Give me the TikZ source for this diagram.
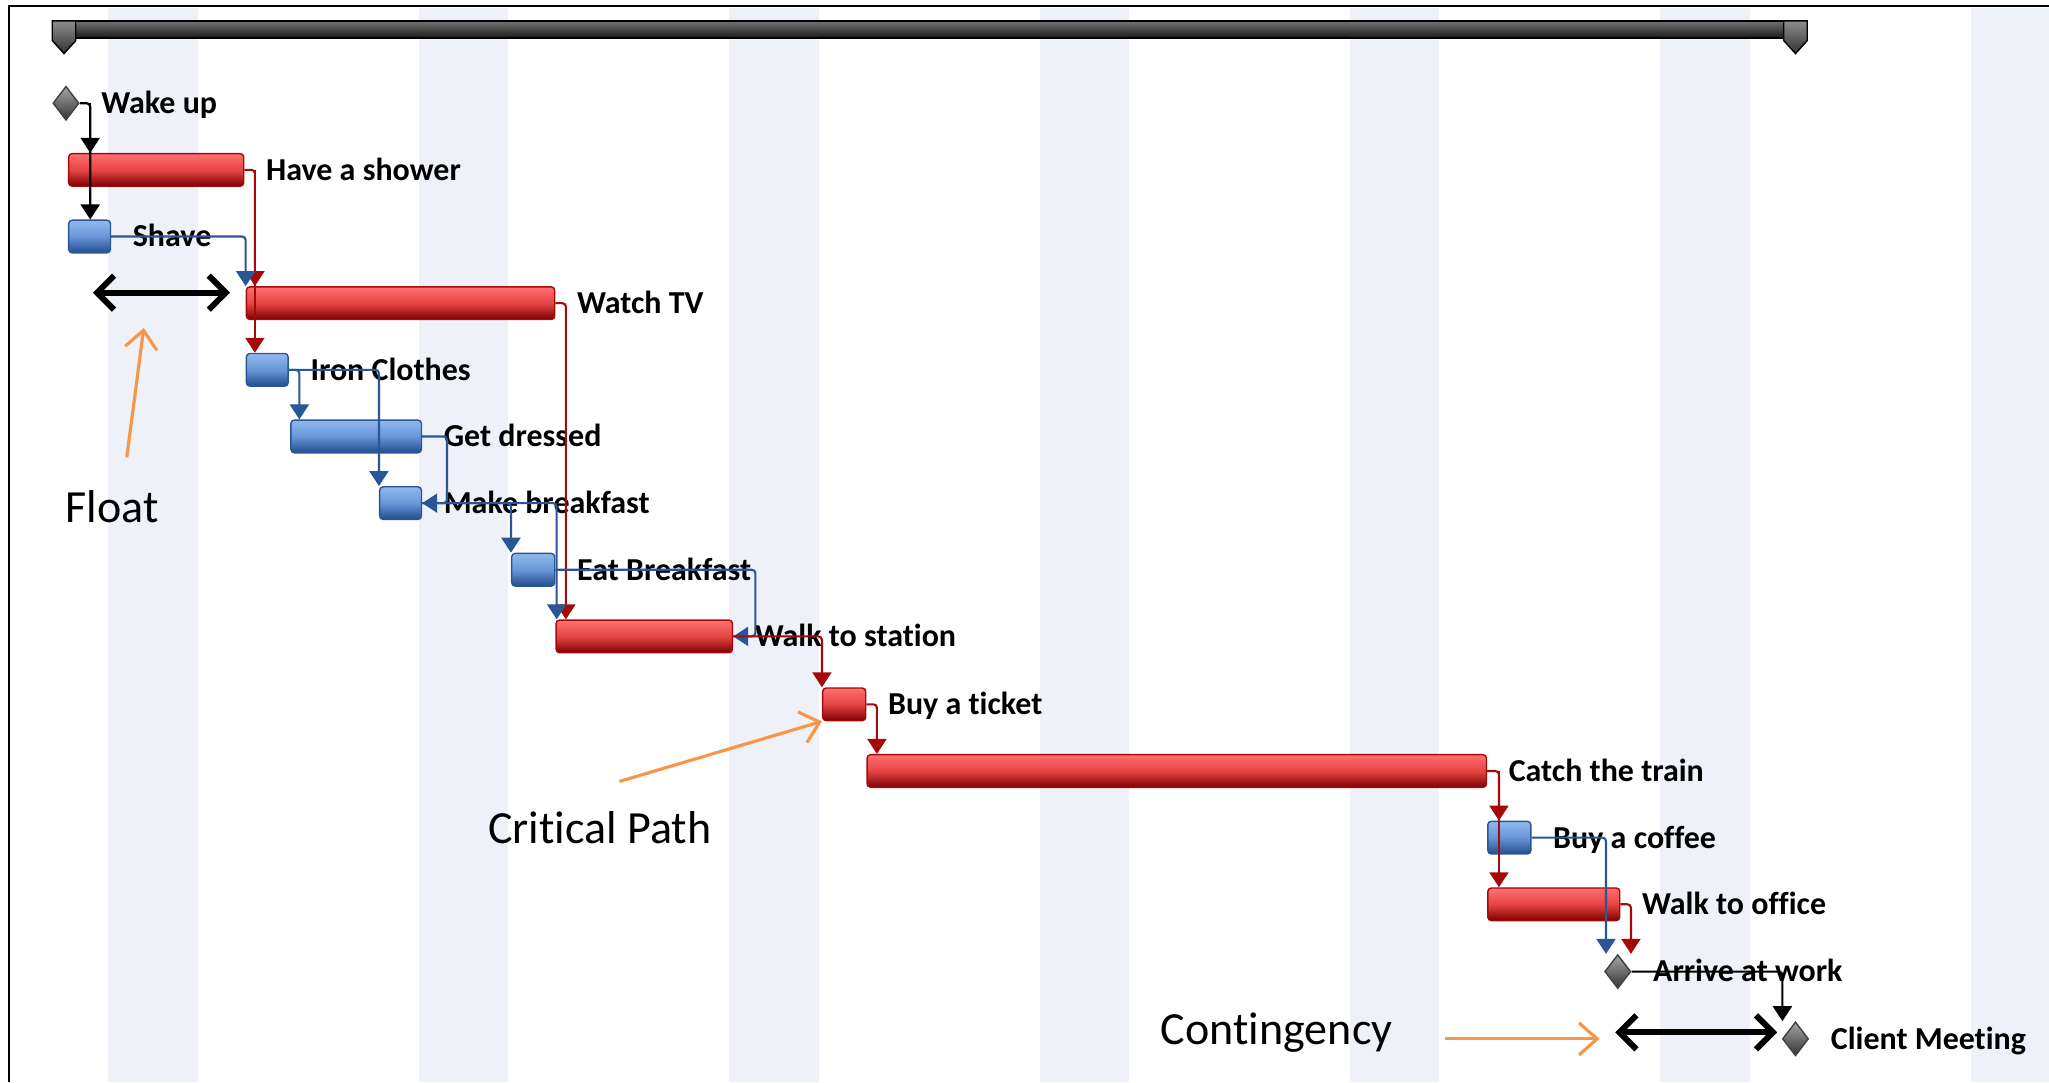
\documentclass[tikz,border=0pt]{standalone}
\usepackage{fontspec}
\setmainfont[Ligatures=NoCommon]{Carlito}
\usepackage{xcolor}
\usepackage{tikz}
\usetikzlibrary{arrows.meta, shapes.geometric, positioning}

\definecolor{stripe}{RGB}{238,241,247}
\definecolor{critTop}{RGB}{255,112,112}
\definecolor{critMid}{RGB}{230,68,68}
\definecolor{critBot}{RGB}{125,0,0}
\definecolor{critLine}{RGB}{165,10,10}
\definecolor{taskTop}{RGB}{145,185,238}
\definecolor{taskMid}{RGB}{105,150,216}
\definecolor{taskBot}{RGB}{34,76,140}
\definecolor{taskLine}{RGB}{40,86,150}
\definecolor{noteOrange}{RGB}{247,150,70}

\newcommand{\gpx}{0.13068mm}

\begin{document}
\begin{tikzpicture}[
        x=\gpx, y=-\gpx,
        bar/.style={rectangle, rounded corners=1pt, anchor=west, inner sep=0pt, minimum height=25*\gpx},
        crit/.style={bar, draw=critLine, top color=critTop, bottom color=critBot, middle color=critMid},
        task/.style={bar, draw=taskLine, top color=taskTop, bottom color=taskBot, middle color=taskMid},
        milestone/.style={diamond, inner sep=0pt, minimum width=20*\gpx, minimum height=26*\gpx, draw=black!75, top color=black!35, bottom color=black!80},
        lbl/.style={inner sep=0pt, text height=5.9pt, text depth=0pt, font=\fontsize{9.1}{11}\selectfont\bfseries},
        note/.style={font=\fontsize{13.1}{15}\selectfont},
        link/.style={line width=0.6pt, rounded corners=1pt, -{Triangle[length=1.5mm, width=1.9mm]}},
        critlink/.style={link, critLine},
        tasklink/.style={link, taskLine},
        mslink/.style={link, black},
        span/.style={line width=1.7pt, {Straight Barb[length=1.7mm, width=3.4mm]}-{Straight Barb[length=1.7mm, width=3.4mm]}},
        pointer/.style={noteOrange, line width=0.9pt, -{Straight Barb[length=1.8mm, width=3.2mm]}}
    ]
        \useasboundingbox (0,0) rectangle (1568,828);

        % Background
        \foreach \col in {0,...,6} {
            \pgfmathsetmacro\xa{83+237.5*\col}
            \pgfmathsetmacro\xb{min(\xa+68.5,1568)}
            \fill[stripe] (\xa,6) rectangle (\xb,828);
        }
        \draw[line width=0.7pt] (7,828) -- (7,4.5) -- (1568,4.5);

        % Summary
        \shade[top color=black!55, bottom color=black!90, draw=black] (49,16) rectangle (1374,29);
        \shade[top color=black!45, bottom color=black!80, draw=black] (40,16) -- (58,16) -- (58,31) -- (49,41) -- (40,31) -- cycle;
        \shade[top color=black!45, bottom color=black!80, draw=black] (1365,16) -- (1383,16) -- (1383,31) -- (1374,41) -- (1365,31) -- cycle;

        % Tasks
        \node[milestone] (wake) at (50.5,79) {};
        \node[crit, minimum width=134*\gpx] (shower) at (52,130) {};
        \node[task, minimum width=32*\gpx] (shave) at (52,181) {};
        \node[crit, minimum width=236*\gpx] (tv) at (188,232) {};
        \node[task, minimum width=32*\gpx] (iron) at (188,283) {};
        \node[task, minimum width=100*\gpx] (dressed) at (222,334) {};
        \node[task, minimum width=32*\gpx] (breakfast) at (290,385) {};
        \node[task, minimum width=33*\gpx] (eat) at (391,436) {};
        \node[crit, minimum width=135*\gpx] (station) at (425,487) {};
        \node[crit, minimum width=33*\gpx] (ticket) at (629,539) {};
        \node[crit, minimum width=474*\gpx] (train) at (663,590) {};
        \node[task, minimum width=33*\gpx] (coffee) at (1138,641) {};
        \node[crit, minimum width=101*\gpx] (office) at (1138,692) {};
        \node[milestone] (arrive) at (1238,743.5) {};
        \node[milestone] (meeting) at (1374,795) {};

        % Labels
        \node[lbl, right=2.09mm of wake] (wakelbl) {Wake up};
        \node[lbl, right=2.09mm of shower] (showerlbl) {Have a shower};
        \node[lbl, right=2.09mm of shave] (shavelbl) {Shave};
        \node[lbl, right=2.09mm of tv] (tvlbl) {Watch TV};
        \node[lbl, right=2.09mm of iron] (ironlbl) {Iron Clothes};
        \node[lbl, right=2.09mm of dressed] (dressedlbl) {Get dressed};
        \node[lbl, right=2.09mm of breakfast] (breakfastlbl) {Make breakfast};
        \node[lbl, right=2.09mm of eat] (eatlbl) {Eat Breakfast};
        \node[lbl, right=2.09mm of station] (stationlbl) {Walk to station};
        \node[lbl, right=2.09mm of ticket] (ticketlbl) {Buy a ticket};
        \node[lbl, right=2.09mm of train] (trainlbl) {Catch the train};
        \node[lbl, right=2.09mm of coffee] (coffeelbl) {Buy a coffee};
        \node[lbl, right=2.09mm of office] (officelbl) {Walk to office};
        \node[lbl, right=2.09mm of arrive] (arrivelbl) {Arrive at work};
        \node[lbl, right=2.09mm of meeting] (meetinglbl) {Client Meeting};

        % Links
        \draw[mslink] (wake.east) -- ++(8,0) coordinate (w1) -- (w1 |- shave.north);
        \draw[mslink] (w1) -- (w1 |- shower.north);
        \draw[critlink] (shower.east) -- ++(8,0) coordinate (s1) -- (s1 |- tv.north);
        \draw[critlink] (s1) -- (s1 |- iron.north);
        \draw[tasklink] (shave.east) -| (tv.north west);
        \draw[critlink] (tv.east) -- ++(8,0) coordinate (t1) -- (t1 |- station.north);
        \draw[tasklink] (iron.east) -- ++(8,0) coordinate (i1) -- (i1 |- dressed.north);
        \draw[tasklink] (iron.east) -| (breakfast.north west);
        \draw[tasklink] (dressed.east) -- ++(19,0) coordinate (d1) |- (breakfast.east);
        \draw[tasklink] (breakfast.east) -| (eat.north west);
        \draw[tasklink] (breakfast.east) -| ([xshift=\gpx]station.north west);
        \draw[tasklink] (eat.east) -- ++(153,0) coordinate (e1) |- (station.east);
        \draw[critlink] (station.east) -| (ticket.north west);
        \draw[critlink] (ticket.east) -- ++(8,0) coordinate (k1) -- (k1 |- train.north);
        \draw[critlink] (train.east) -- ++(9,0) coordinate (c1) -- (c1 |- coffee.north);
        \draw[critlink] (c1) -- (c1 |- office.north);
        \draw[tasklink] (coffee.east) -| ([xshift=-9*\gpx]arrive.north);
        \draw[critlink] (office.east) -- ++(8,0) coordinate (o1) -- (o1 |- arrive.north);
        \draw[mslink] (arrive.east) -| ([xshift=-10*\gpx]meeting.north);

        % Notes
        \node[note] (float) at (86,388) {Float};
        \node[note] (critical) at (459,633) {Critical Path};
        \node[note] (contingency) at (977,790) {Contingency};
        \coordinate (floatL) at (71,224);
        \coordinate (floatR) at (176,224);
        \coordinate (floatTail) at (97,350);
        \coordinate (floatHead) at (110,251);
        \coordinate (critTail) at (474,598);
        \coordinate (contL) at (1236,790);
        \coordinate (contR) at (1360,790);
        \coordinate (contTail) at (1106,795);
        \coordinate (contHead) at (1224,795);
        \draw[span] (floatL) -- (floatR);
        \draw[pointer] (floatTail) -- (floatHead);
        \draw[pointer] (critTail) -- (ticket.south west);
        \draw[span] (contL) -- (contR);
        \draw[pointer] (contTail) -- (contHead);
    \end{tikzpicture}
\end{document}
